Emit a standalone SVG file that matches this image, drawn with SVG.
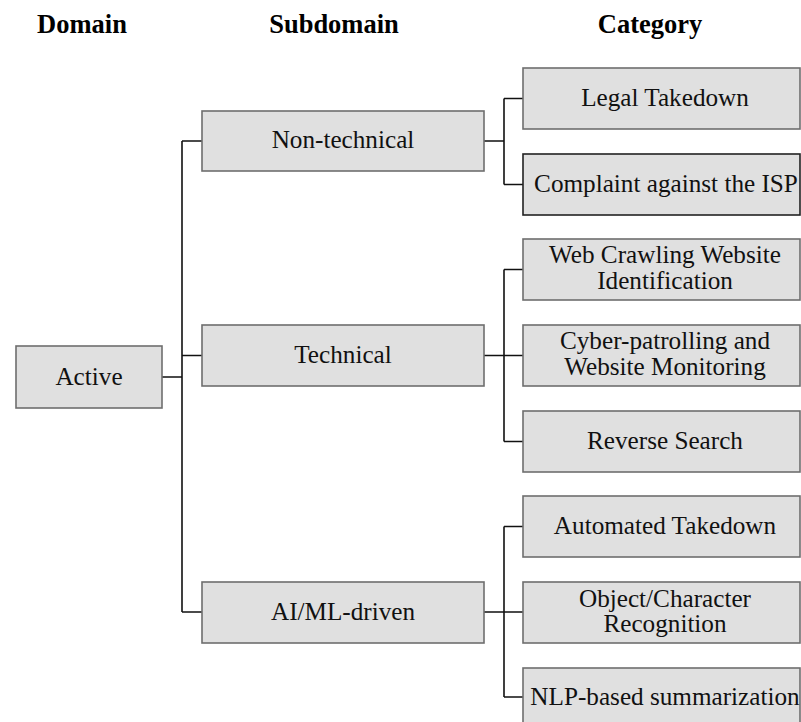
<svg xmlns="http://www.w3.org/2000/svg" width="801" height="722" viewBox="0 0 801 722">
<style>
.hdr{font-family:"Liberation Serif","Times New Roman",serif;font-weight:bold;font-size:26.5px;fill:#000;text-anchor:middle}
.box{fill:#e0e0e0;stroke:#6e6e6e;stroke-width:1.6}
.dark{stroke:#222}
.lbl{font-family:"Liberation Serif","Times New Roman",serif;font-size:25.2px;fill:#111;text-anchor:middle}
.con{fill:none;stroke:#111;stroke-width:1.6}
</style>
<rect width="801" height="722" fill="#fff"/>
<g id="headers">
<text class="hdr" x="82" y="33">Domain</text>
<text class="hdr" x="334" y="33">Subdomain</text>
<text class="hdr" x="650" y="33">Category</text>
</g>
<g id="connectors">
<path class="con" d="M162,377H182M182,141V612M182,141H202M182,355.5H202M182,612H202"/>
<path class="con" d="M484,141H504M504,98.5V184.5M504,98.5H523M504,184.5H523"/>
<path class="con" d="M484,355.5H523M504,269.5V441.5M504,269.5H523M504,441.5H523"/>
<path class="con" d="M484,612H523M504,526.5V697M504,526.5H523M504,697H523"/>
</g>
<g id="n-active"><rect class="box" x="16" y="346" width="146" height="62"/><text class="lbl" x="89" y="385">Active</text></g>
<g id="n-nontech"><rect class="box" x="202" y="111" width="282" height="60"/><text class="lbl" x="343" y="148">Non-technical</text></g>
<g id="n-tech"><rect class="box" x="202" y="325" width="282" height="61"/><text class="lbl" x="343" y="363">Technical</text></g>
<g id="n-aiml"><rect class="box" x="202" y="582" width="282" height="61"/><text class="lbl" x="343" y="620">AI/ML-driven</text></g>
<g id="n-legal"><rect class="box" x="523" y="68" width="277" height="61"/><text class="lbl" x="665" y="106">Legal Takedown</text></g>
<g id="n-complaint"><rect class="box dark" x="523" y="154" width="277" height="61"/><text class="lbl" x="666" y="192">Complaint against the ISP</text></g>
<g id="n-webcrawl"><rect class="box" x="523" y="239" width="277" height="61"/><text class="lbl" x="665" y="263">Web Crawling Website</text><text class="lbl" x="665" y="289">Identification</text></g>
<g id="n-cyber"><rect class="box" x="523" y="325" width="277" height="61"/><text class="lbl" x="665" y="349">Cyber-patrolling and</text><text class="lbl" x="665" y="375">Website Monitoring</text></g>
<g id="n-reverse"><rect class="box" x="523" y="411" width="277" height="61"/><text class="lbl" x="665" y="449">Reverse Search</text></g>
<g id="n-automated"><rect class="box" x="523" y="496" width="277" height="61"/><text class="lbl" x="665" y="534">Automated Takedown</text></g>
<g id="n-object"><rect class="box" x="523" y="582" width="277" height="61"/><text class="lbl" x="665" y="607">Object/Character</text><text class="lbl" x="665" y="632">Recognition</text></g>
<g id="n-nlp"><rect class="box" x="523" y="668" width="277" height="70"/><text class="lbl" x="665" y="705">NLP-based summarization</text></g>
</svg>
